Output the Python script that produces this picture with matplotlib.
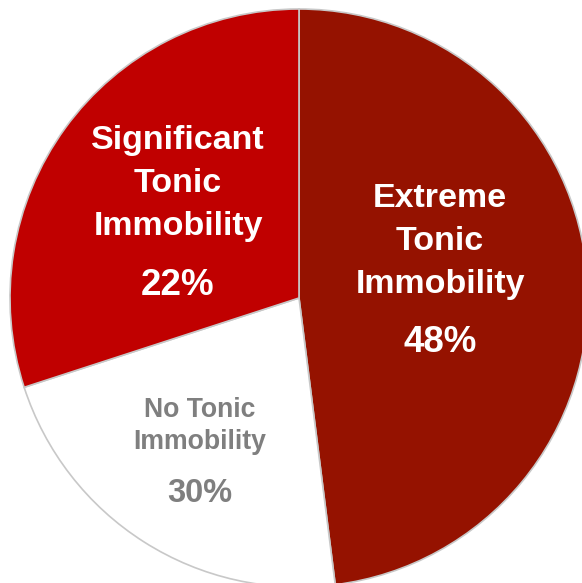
import matplotlib.pyplot as plt

# slice data (sizes, text as printed on the chart)
categories = ['Extreme\nTonic\nImmobility', 'No Tonic\nImmobility', 'Significant\nTonic\nImmobility']
sizes = [48, 22, 30]
pct_labels = ['48%', '30%', '22%']

colors = ['#951200', '#ffffff', '#c00000']
text_colors = ['white', '#7f7f7f', 'white']
font_sizes = [24.5, 19.2, 24.5]
pct_sizes = [26.5, 23.5, 26.5]

W, H = 582, 583

# label layout in pixels from top-left: (x center, first baseline, line step, pct baseline)
layout = [
    (440, 207, 43, 352),
    (200, 417, 32, 502),
    (178, 149, 43, 295),
]

fig = plt.figure(figsize=(W / 100, H / 100), dpi=100)
ax = fig.add_axes([0, 0, 1, 1])
ax.set_xlim(0, W)
ax.set_ylim(0, H)
ax.set_aspect('equal')
ax.axis('off')

ax.pie(sizes, colors=colors, startangle=90, counterclock=False,
       center=(299, H - 298), radius=289,
       wedgeprops=dict(edgecolor='#c8c8c8', linewidth=1.2))

for cat, pct, tc, fs, ps, (x, y0, step, yp) in zip(categories, pct_labels, text_colors,
                                                   font_sizes, pct_sizes, layout):
    for i, line in enumerate(cat.split('\n')):
        ax.text(x, H - (y0 + i * step), line, ha='center', va='baseline',
                color=tc, fontsize=fs, fontweight='bold', family='Liberation Sans')
    ax.text(x, H - yp, pct, ha='center', va='baseline',
            color=tc, fontsize=ps, fontweight='bold', family='Liberation Sans')

ax.set_xlim(0, W)
ax.set_ylim(0, H)
fig.savefig('out.png', dpi=100)
